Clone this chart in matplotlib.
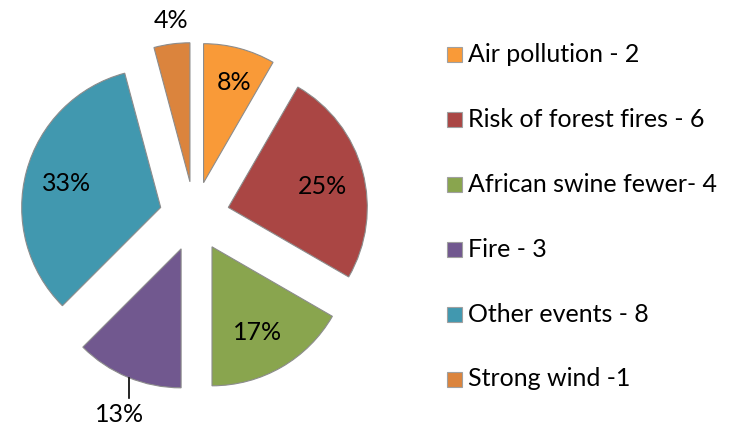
import matplotlib
matplotlib.use("Agg")
import matplotlib.pyplot as plt
from matplotlib.patches import Rectangle

categories = ["Air pollution - 2", "Risk of forest fires - 6", "African swine fewer- 4",
              "Fire - 3", "Other events - 8", "Strong wind -1"]
values = [2, 6, 4, 3, 8, 1]
pct_labels = ["8%", "25%", "17%", "13%", "33%", "4%"]
colors = ["#F99A38", "#AA4644", "#89A54E", "#71588F", "#4198AF", "#DB843D"]

plt.rcParams["font.family"] = ["Lato", "DejaVu Sans"]
FS = 18

W, H = 729, 428
fig = plt.figure(figsize=(W / 100, H / 100), dpi=100)
ax = fig.add_axes([0, 0, 1, 1])

def Y(y):
    return H - y

cx, cy, r, ex = 194.5, 216.5, 139, 35
wedges, _ = ax.pie(values, colors=colors, startangle=90, counterclock=False,
                   center=(cx, Y(cy)), radius=r, explode=[ex] * len(values),
                   wedgeprops=dict(edgecolor="#8C8C8C", linewidth=0.8))
ax.set_xlim(0, W)
ax.set_ylim(0, H)
ax.set_aspect("auto")
ax.axis("off")

# percentage labels (pixel positions measured from top)
label_pos = [(234, 82), (323, 186), (258, 333), (120, 414), (67, 183), (171, 20)]
for (x, y), t in zip(label_pos, pct_labels):
    ax.text(x, Y(y), t, fontsize=FS, ha="center", va="center", color="black", zorder=5)
ax.plot([129, 129], [Y(378), Y(398)], color="black", lw=1.2, zorder=5)

# legend
row_y = [54, 119.5, 184.5, 249.5, 314, 379]
for yy, lab, col in zip(row_y, categories, colors):
    ax.add_patch(Rectangle((447, Y(yy) - 7.5), 15, 15, facecolor=col,
                           edgecolor="#A0A0A0", lw=0.8))
    ax.text(468, Y(yy), lab, fontsize=FS, ha="left", va="center", color="black")

fig.savefig("out.png", dpi=100, facecolor="white")
